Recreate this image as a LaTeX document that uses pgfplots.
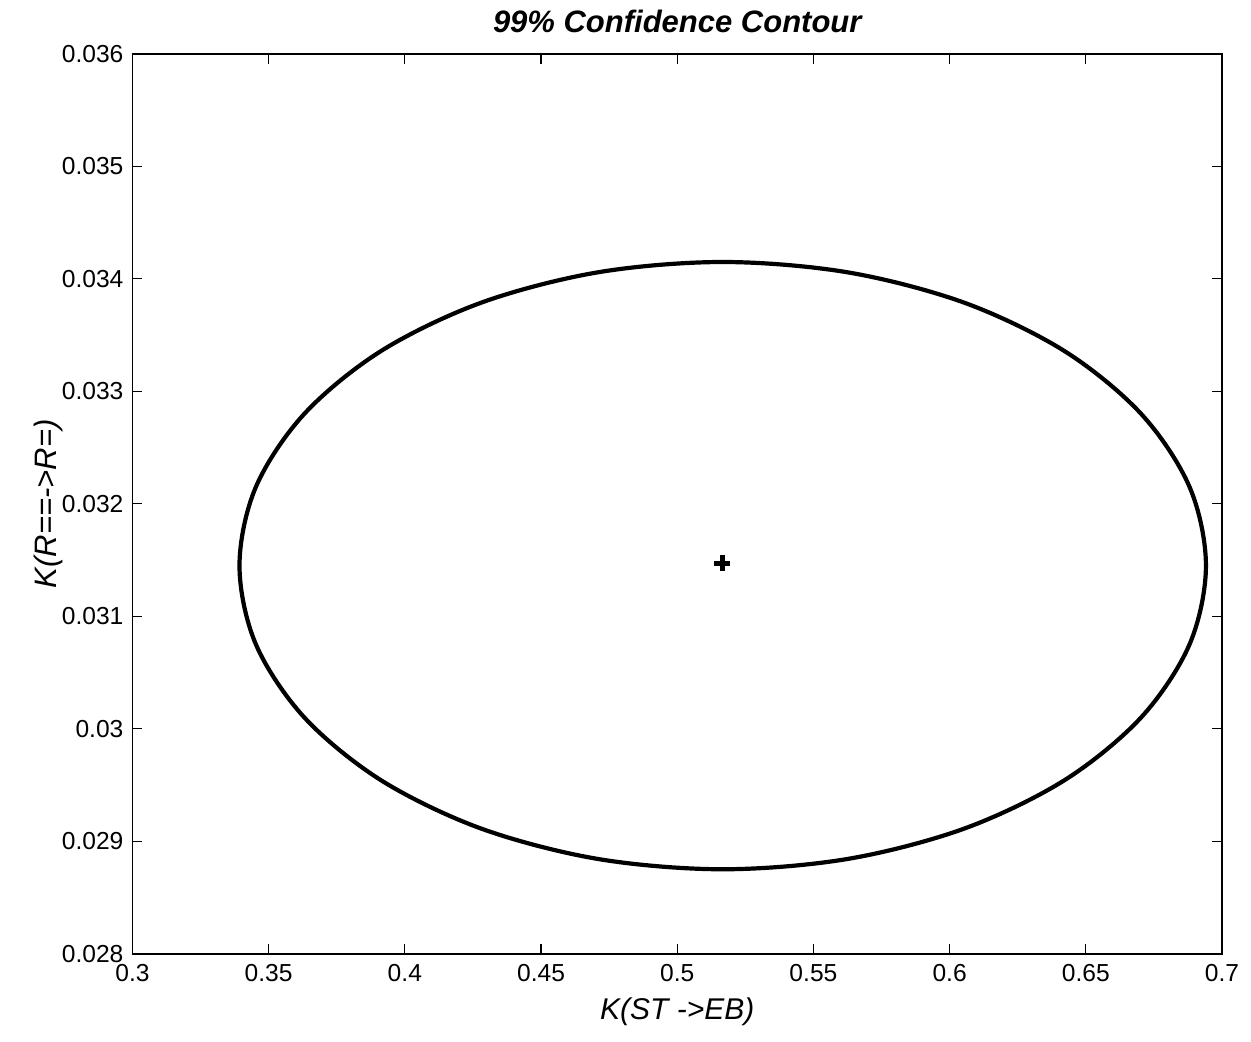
\documentclass[border=0pt]{standalone}
\usepackage{fontspec}
\setmainfont{Liberation Sans}
\usepackage{pgfplots}
\pgfplotsset{compat=1.18}

\begin{document}
\begin{tikzpicture}
\begin{axis}[
  scale only axis,
  width=545pt, height=450pt,
  xmin=0.3, xmax=0.7,
  ymin=0.028, ymax=0.036,
  xtick={0.3,0.35,0.4,0.45,0.5,0.55,0.6,0.65,0.7},
  ytick={0.028,0.029,0.030,0.031,0.032,0.033,0.034,0.035,0.036},
  scaled x ticks=false, scaled y ticks=false,
  xticklabel style={/pgf/number format/fixed, /pgf/number format/precision=2},
  yticklabel style={/pgf/number format/fixed, /pgf/number format/precision=3},
  /pgf/number format/assume math mode=true,
  tick label style={font=\fontsize{12.3}{14}\selectfont},
  tick align=inside, tick pos=both,
  major tick length=5pt,
  axis line style={line width=0.9pt},
  every tick/.style={black, line width=0.6pt},
  xticklabel style={yshift=-2pt},
  yticklabel style={xshift=-1pt},
  every axis title shift=0pt,
  title={99\% Confidence Contour},
  title style={font=\fontsize{15.5}{18}\selectfont\bfseries\itshape,
    at={(axis description cs:0.5,1.0244)}, anchor=base, yshift=0pt},
  xlabel={K(ST ->EB)},
  xlabel style={font=\fontsize{15}{18}\selectfont\itshape,
    at={(axis description cs:0.5,-0.0733)}, anchor=base},
  ylabel={K(R==->R=)},
  ylabel style={font=\fontsize{15.5}{18}\selectfont\itshape,
    at={(axis description cs:-0.0697,0.5)}, anchor=base},
]
% 99% confidence contour
\addplot[black, line width=2.1pt, smooth cycle, tension=0.55] coordinates {
  (0.6941,0.03145)
  (0.6881,0.032149)
  (0.6703,0.0328)
  (0.6421,0.033359)
  (0.6054,0.033788)
  (0.5626,0.034058)
  (0.5167,0.03415)
  (0.4708,0.034058)
  (0.4280,0.033788)
  (0.3913,0.033359)
  (0.3631,0.0328)
  (0.3453,0.032149)
  (0.3393,0.03145)
  (0.3453,0.030751)
  (0.3631,0.0301)
  (0.3913,0.029541)
  (0.4280,0.029112)
  (0.4708,0.028842)
  (0.5167,0.02875)
  (0.5626,0.028842)
  (0.6054,0.029112)
  (0.6421,0.029541)
  (0.6703,0.0301)
  (0.6881,0.030751)
};
% best estimate
\addplot[black, only marks, mark=+, mark size=4pt, line width=2.4pt] coordinates {
  (0.5166,0.03147)
};
\end{axis}
\pgfresetboundingbox
\path ([shift={(-66.25pt,-44pt)}]current axis.south west)
  rectangle ([shift={(14.5pt,27pt)}]current axis.north east);
\end{tikzpicture}
\end{document}
